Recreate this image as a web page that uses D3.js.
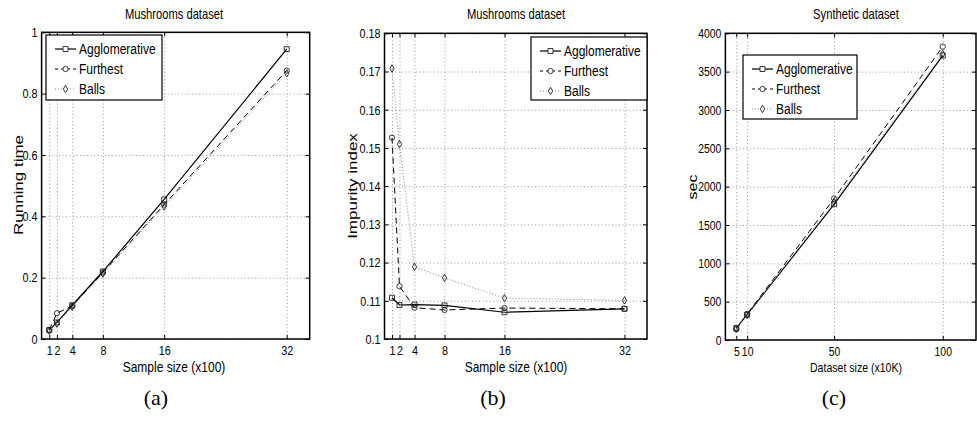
<!DOCTYPE html>
<html>
<head>
<meta charset="utf-8">
<script src="https://cdn.jsdelivr.net/npm/d3@7"></script>
<style>
  body { margin: 0; background: #fff; }
  svg { display: block; }
</style>
</head>
<body>
<div id="chart"></div>
<script>
// ---- data ----
const seriesNames = ["Agglomerative", "Furthest", "Balls"];

// Mushrooms: sample size (x100)
const sampleSizes = [1, 2, 4, 8, 16, 32];
const timeAgglomerative = [0.029, 0.054, 0.110, 0.220, 0.455, 0.945];
const timeFurthest      = [0.030, 0.084, 0.108, 0.217, 0.438, 0.875];
const timeBalls         = [0.027, 0.050, 0.105, 0.213, 0.432, 0.866];

const impurityAgglomerative = [0.1108, 0.1089, 0.1090, 0.1088, 0.1070, 0.1079];
const impurityFurthest      = [0.1527, 0.1138, 0.1082, 0.1076, 0.1081, 0.1079];
const impurityBalls         = [0.1708, 0.1510, 0.1189, 0.1160, 0.1107, 0.1101];

// Synthetic: dataset size (x10K)
const datasetSizes = [5, 10, 50, 100];
const secAgglomerative = [155, 330, 1770, 3710];
const secFurthest      = [140, 340, 1845, 3826];
const secBalls         = [150, 325, 1800, 3730];

// tick values / labels
const timeTicks = [0, 0.2, 0.4, 0.6, 0.8, 1];
const timeTickLabels = ["0", "0.2", "0.4", "0.6", "0.8", "1"];
const impurityTicks = [0.1, 0.11, 0.12, 0.13, 0.14, 0.15, 0.16, 0.17, 0.18];
const impurityTickLabels = ["0.1", "0.11", "0.12", "0.13", "0.14", "0.15", "0.16", "0.17", "0.18"];
const secTicks = [0, 500, 1000, 1500, 2000, 2500, 3000, 3500, 4000];
const secTickLabels = ["0", "500", "1000", "1500", "2000", "2500", "3000", "3500", "4000"];

// ---- look ----
const SX = 0.8;   // the figure is squeezed horizontally
const FONT = "'Liberation Sans', Arial, Helvetica, sans-serif";

const seriesStyle = [
  { stroke: "#000", width: 1.2, dash: null,  legendDash: null,  marker: "square" },
  { stroke: "#000", width: 1,   dash: "6,4", legendDash: "3,3", marker: "circle" },
  { stroke: "#888", width: 1,   dash: "1,2", legendDash: "1,2", marker: "diamond" }
];

function markerPath(type) {
  if (type === "square") return d3.symbol(d3.symbolSquare, 25)();
  if (type === "circle") return d3.symbol(d3.symbolCircle, 22)();
  return d3.symbol(d3.symbolDiamond, 16)();
}

const panels = [
  {
    title: "Mushrooms dataset", xlabel: "Sample size (x100)", ylabel: "Running time",
    xs: sampleSizes, ys: [timeAgglomerative, timeFurthest, timeBalls],
    xTicks: sampleSizes, yTicks: timeTicks, yTickLabels: timeTickLabels,
    xDomain: [0, 35], yDomain: [0, 1],
    box: { l: 41.6, r: 309.7, t: 32.3, b: 339 },
    titleX: 174, ylabelX: 23, ylabelY: 185, xlabelSize: 15, ylabelSize: 17, tickSize: 13.5,
    legend: { x: 46, y: 35, w: 116, h: 65 },
    caption: "(a)", captionX: 156
  },
  {
    title: "Mushrooms dataset", xlabel: "Sample size (x100)", ylabel: "Impurity index",
    xs: sampleSizes, ys: [impurityAgglomerative, impurityFurthest, impurityBalls],
    xTicks: sampleSizes, yTicks: impurityTicks, yTickLabels: impurityTickLabels,
    xDomain: [0, 35], yDomain: [0.1, 0.18],
    box: { l: 384.5, r: 647, t: 33.3, b: 339 },
    titleX: 516, ylabelX: 357, ylabelY: 186, xlabelSize: 15, ylabelSize: 17, tickSize: 13.5,
    legend: { x: 531, y: 37, w: 116, h: 63 },
    caption: "(b)", captionX: 493
  },
  {
    title: "Synthetic dataset", xlabel: "Dataset size (x10K)", ylabel: "sec",
    xs: datasetSizes, ys: [secAgglomerative, secFurthest, secBalls],
    xTicks: datasetSizes, yTicks: secTicks, yTickLabels: secTickLabels,
    xDomain: [0, 115.3], yDomain: [0, 4000],
    box: { l: 725.4, r: 976, t: 33.3, b: 340 },
    titleX: 856, ylabelX: 696.5, ylabelY: 187, xlabelSize: 13.2, ylabelSize: 16, tickSize: 13,
    legend: { x: 743, y: 55, w: 114, h: 64 },
    caption: "(c)", captionX: 834
  }
];

const svg = d3.select("#chart").append("svg")
  .attr("width", 977)
  .attr("height", 421)
  .style("background", "#fff");

function label(g, x, y, txt, size, anchor, rotate) {
  return g.append("text")
    .attr("transform", `translate(${x},${y}) scale(${SX},1)` + (rotate ? " rotate(-90)" : ""))
    .attr("text-anchor", anchor)
    .attr("font-family", FONT)
    .attr("font-size", size)
    .attr("fill", "#000")
    .text(txt);
}

panels.forEach(p => {
  const g = svg.append("g");
  const b = p.box;
  const x = d3.scaleLinear().domain(p.xDomain).range([b.l, b.r]);
  const y = d3.scaleLinear().domain(p.yDomain).range([b.b, b.t]);
  const h = b.b - b.t, w = b.r - b.l;

  // dotted grid
  g.append("g")
    .attr("transform", `translate(0,${b.b})`)
    .call(d3.axisBottom(x).tickValues(p.xTicks).tickSize(-h).tickFormat(""))
    .call(s => s.select(".domain").remove())
    .selectAll("line").attr("stroke", "#999").attr("stroke-dasharray", "1,2.5");
  g.append("g")
    .attr("transform", `translate(${b.l},0)`)
    .call(d3.axisLeft(y).tickValues(p.yTicks).tickSize(-w).tickFormat(""))
    .call(s => s.select(".domain").remove())
    .selectAll("line").attr("stroke", "#999").attr("stroke-dasharray", "1,2.5");

  // inward ticks on all four sides, labels bottom / left
  const xb = g.append("g")
    .attr("transform", `translate(0,${b.b})`)
    .call(d3.axisBottom(x).tickValues(p.xTicks).tickSize(-4).tickPadding(6.5));
  const yl = g.append("g")
    .attr("transform", `translate(${b.l},0)`)
    .call(d3.axisLeft(y).tickValues(p.yTicks).tickSize(-4).tickPadding(5)
      .tickFormat((d, i) => p.yTickLabels[i]));
  const xt = g.append("g")
    .attr("transform", `translate(0,${b.t})`)
    .call(d3.axisTop(x).tickValues(p.xTicks).tickSize(-4).tickFormat(""));
  const yr = g.append("g")
    .attr("transform", `translate(${b.r},0)`)
    .call(d3.axisRight(y).tickValues(p.yTicks).tickSize(-4).tickFormat(""));
  [xb, yl, xt, yr].forEach(a => {
    a.select(".domain").remove();
    a.selectAll("line").attr("stroke", "#000").attr("stroke-width", 1);
    a.selectAll("text")
      .attr("font-family", FONT)
      .attr("font-size", p.tickSize)
      .attr("fill", "#000")
      .attr("transform", `scale(${SX},1)`);
  });
  yl.selectAll("text").attr("x", -4 / SX);

  // box
  g.append("rect")
    .attr("x", b.l).attr("y", b.t).attr("width", w).attr("height", h)
    .attr("fill", "none").attr("stroke", "#000").attr("stroke-width", 1.5);

  // series
  const line = d3.line().x(d => x(d[0])).y(d => y(d[1]));
  p.ys.forEach((vals, i) => {
    const st = seriesStyle[i];
    const pts = d3.zip(p.xs, vals);
    g.append("path")
      .datum(pts)
      .attr("d", line)
      .attr("fill", "none")
      .attr("stroke", st.stroke)
      .attr("stroke-width", st.width)
      .attr("stroke-dasharray", st.dash);
    g.selectAll(null)
      .data(pts)
      .enter()
      .append("path")
      .attr("transform", d => `translate(${x(d[0])},${y(d[1])})`)
      .attr("d", markerPath(st.marker))
      .attr("fill", "none")
      .attr("stroke", "#222")
      .attr("stroke-width", 0.9);
  });

  // legend
  const L = p.legend;
  const lg = g.append("g").attr("transform", `translate(${L.x},${L.y})`);
  lg.append("rect")
    .attr("width", L.w).attr("height", L.h)
    .attr("fill", "#fff").attr("stroke", "#000").attr("stroke-width", 1.2);
  seriesNames.forEach((name, i) => {
    const st = seriesStyle[i];
    const cy = 14 + i * 20;
    lg.append("line")
      .attr("x1", 9).attr("x2", 30).attr("y1", cy).attr("y2", cy)
      .attr("stroke", st.stroke).attr("stroke-width", st.width)
      .attr("stroke-dasharray", st.legendDash);
    lg.append("path")
      .attr("transform", `translate(19.5,${cy})`)
      .attr("d", markerPath(st.marker))
      .attr("fill", "#fff").attr("stroke", "#222").attr("stroke-width", 0.9);
    label(lg, 33, cy + 5.3, name, 15, "start", false);
  });

  // titles and axis labels
  label(g, p.titleX, 18.5, p.title, 14, "middle", false);
  label(g, p.titleX, 372, p.xlabel, p.xlabelSize, "middle", false);
  label(g, p.ylabelX, p.ylabelY, p.ylabel, p.ylabelSize, "middle", true);

  // sub-figure caption
  g.append("text")
    .attr("x", p.captionX).attr("y", 405)
    .attr("text-anchor", "middle")
    .attr("font-family", "'Liberation Serif', 'DejaVu Serif', serif")
    .attr("font-size", 22)
    .text(p.caption);
});
</script>
</body>
</html>
